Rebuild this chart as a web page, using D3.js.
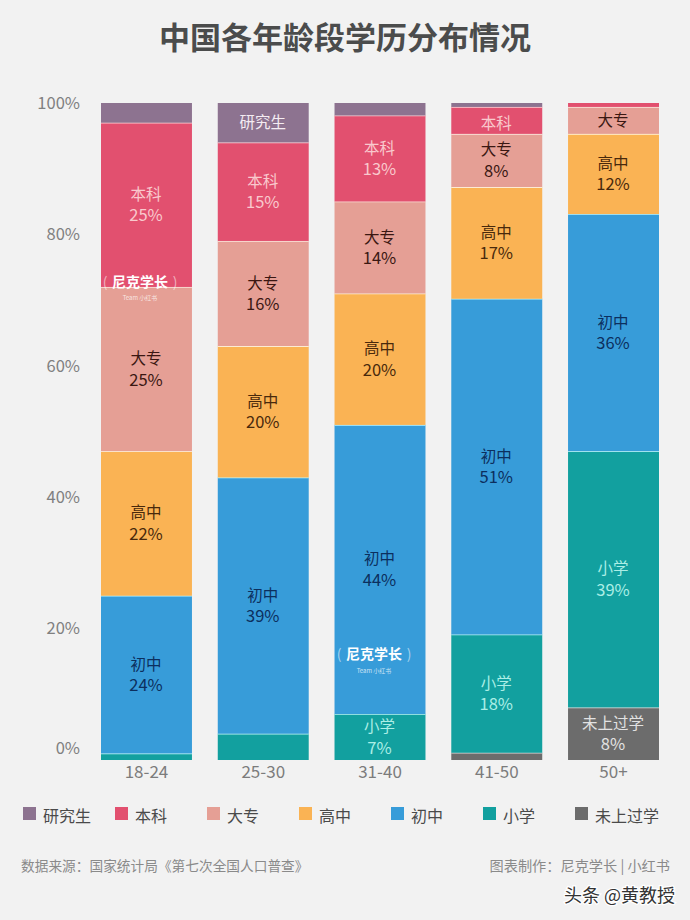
<!DOCTYPE html>
<html>
<head>
<meta charset="utf-8">
<script src="https://d3js.org/d3.v7.min.js"></script>
<style>
  * { margin:0; padding:0; box-sizing:border-box; }
  body { background:#f2f2f2; overflow:hidden; font-family:"Noto Sans CJK SC","Noto Sans",sans-serif; }
  svg { display:block; }
</style>
</head>
<body>
<svg id="chart" width="690" height="920"></svg>
<script>
// Values, oldest schooling level last
const ages      = ["18-24", "25-30", "31-40", "41-50", "50+"];
const levels    = ["研究生", "本科", "大专", "高中", "初中", "小学", "未上过学"];
const graduate  = [3, 6, 1.9, 0.6, 0];
const bachelor  = [25, 15, 13.1, 4.1, 0.6];
const college   = [25, 16, 14, 8.1, 4.1];
const highSch   = [22, 20, 20, 17, 12.2];
const middleSch = [24, 39, 44, 51.1, 36.1];
const primary   = [1, 4, 7, 18, 39];
const noSchool  = [0, 0, 0, 1.1, 8];
const yTicks    = [0, 20, 40, 60, 80, 100];

const seriesValues = [graduate, bachelor, college, highSch, middleSch, primary, noSchool];

// Short segments that only carry the name, no percentage
const nameOnly = ["研究生|25-30", "本科|41-50", "大专|50+"];

const fills  = ["#8d7390", "#e2506f", "#e59f95", "#fab354", "#379cd9", "#12a09f", "#6c6c6c"];
const seams  = ["#f6c9d2", "#fbd0d6", "#fde6de", "#fff3da", "#bdf5fc", "#bdf5f5", "#dddddd"];
const inks   = ["#f4ecf2", "#f9c9cd", "#3a1712", "#48290c", "#0c2f5e", "#abeee6", "#e2e2e2"];

const svg = d3.select("#chart");
const cjk = '"Noto Sans CJK SC","Noto Sans",sans-serif';

svg.append("text")
  .attr("x", 345).attr("y", 49)
  .attr("text-anchor", "middle")
  .attr("font-size", 31).attr("font-weight", 700)
  .attr("fill", "#4b4c4c")
  .text("中国各年龄段学历分布情况");

// ── Scales ───────────────────────────────────────────────────────────────────
const x = d3.scaleBand().domain(ages).range([101, 659]).paddingInner(0.221).paddingOuter(0);
const y = d3.scaleLinear().domain([0, 100]).range([760, 103]);
const colour = d3.scaleOrdinal().domain(levels).range(fills);

const rows = ages.map(function(age, i) {
  const row = { age: age };
  levels.forEach(function(lv, j) { row[lv] = seriesValues[j][i]; });
  return row;
});

// Stack from the bottom of the bar, so lowest schooling goes first
const stacked = d3.stack().keys(levels.slice().reverse())(rows);

const layers = svg.append("g").selectAll("g")
  .data(stacked)
  .join("g")
  .attr("fill", function(d) { return colour(d.key); });

layers.selectAll("rect")
  .data(function(d) { return d; })
  .join("rect")
  .attr("x", function(d) { return x(d.data.age); })
  .attr("y", function(d) { return y(d[1]); })
  .attr("width", x.bandwidth())
  .attr("height", function(d) { return y(d[0]) - y(d[1]); });

// Pale seam along the top of every segment below the first
layers.each(function(layer) {
  const idx = levels.indexOf(layer.key);
  d3.select(this).selectAll("line")
    .data(layer.filter(function(d) { return d[1] > d[0] && d[1] < 99.9; }))
    .join("line")
    .attr("x1", function(d) { return x(d.data.age); })
    .attr("x2", function(d) { return x(d.data.age) + x.bandwidth(); })
    .attr("y1", function(d) { return y(d[1]); })
    .attr("y2", function(d) { return y(d[1]); })
    .attr("stroke", seams[idx])
    .attr("stroke-width", 1.6);
});

// ── Segment labels ───────────────────────────────────────────────────────────
layers.each(function(layer) {
  const idx = levels.indexOf(layer.key);
  const g = d3.select(this);
  layer.forEach(function(d) {
    const v = d[1] - d[0];
    const cx = x(d.data.age) + x.bandwidth() / 2 - 0.5;
    const cy = y((d[0] + d[1]) / 2);
    const key = layer.key + "|" + d.data.age;
    const label = function(yy, str, size) {
      g.append("text")
        .attr("x", cx).attr("y", yy)
        .attr("text-anchor", "middle").attr("dominant-baseline", "central")
        .attr("font-size", size).attr("fill", inks[idx])
        .text(str);
    };
    if (nameOnly.indexOf(key) >= 0) {
      // the 41-50 本科 label sits low in its segment in the original
      label(key === "本科|41-50" ? cy + 2 : cy - 1.5, layer.key, 15.5);
    } else if (v >= 7) {
      label(cy - 12, layer.key, 15.5);
      label(cy + 9.5, Math.round(v) + "%", 16.5);
    }
  });
});

// ── Axes ─────────────────────────────────────────────────────────────────────
const yAxis = svg.append("g")
  .attr("transform", "translate(80,0)")
  .call(d3.axisLeft(y).tickValues(yTicks).tickSize(0).tickPadding(0).tickFormat(function(d) { return d + "%"; }));
yAxis.select(".domain").remove();
yAxis.selectAll("text")
  .attr("font-family", cjk).attr("font-size", 16.5).attr("fill", "#808080")
  .attr("dy", function(d) { return d === 0 ? "-0.42em" : "0.32em"; });

const xAxis = svg.append("g")
  .attr("transform", "translate(0,760)")
  .call(d3.axisBottom(x).tickSize(0).tickPadding(6));
xAxis.select(".domain").remove();
xAxis.selectAll("text")
  .attr("font-family", cjk).attr("font-size", 17).attr("fill", "#7c7c7c");

// ── Legend ───────────────────────────────────────────────────────────────────
const legend = svg.append("g").selectAll("g")
  .data(levels)
  .join("g")
  .attr("transform", function(d, i) { return "translate(" + (23 + i * 92) + ",807)"; });
legend.append("rect")
  .attr("width", 13).attr("height", 13)
  .attr("fill", function(d) { return colour(d); });
legend.append("text")
  .attr("x", 20).attr("y", 8)
  .attr("dominant-baseline", "central")
  .attr("font-size", 16).attr("fill", "#4a4a4a")
  .text(function(d) { return d; });

// ── Footer ───────────────────────────────────────────────────────────────────
svg.append("text")
  .attr("x", 21).attr("y", 871)
  .attr("font-size", 13.7).attr("fill", "#8a8a8a")
  .text("数据来源：国家统计局《第七次全国人口普查》");
svg.append("text")
  .attr("x", 670).attr("y", 871)
  .attr("text-anchor", "end")
  .attr("font-size", 14.2).attr("fill", "#8a8a8a")
  .text("图表制作：尼克学长 | 小红书");
svg.append("text")
  .attr("x", 675).attr("y", 902)
  .attr("text-anchor", "end")
  .attr("font-size", 18).attr("fill", "#333")
  .attr("stroke", "#fff").attr("stroke-width", 2.5).attr("paint-order", "stroke")
  .text("头条 @黄教授");

// Watermarks printed over the bars
[[140, 281, 297], [374, 653, 670]].forEach(function(m) {
  svg.append("text")
    .attr("x", m[0]).attr("y", m[1])
    .attr("text-anchor", "middle").attr("dominant-baseline", "central")
    .attr("font-size", 14).attr("font-weight", 700).attr("fill", "#fff")
    .text("尼克学长");
  [-35, 35].forEach(function(dx, i) {
    svg.append("text")
      .attr("x", m[0] + dx).attr("y", m[1])
      .attr("text-anchor", "middle").attr("dominant-baseline", "central")
      .attr("font-size", 14).attr("fill", "#fff").attr("fill-opacity", 0.55)
      .text(i ? ")" : "(");
  });
  svg.append("text")
    .attr("x", m[0]).attr("y", m[2])
    .attr("text-anchor", "middle").attr("dominant-baseline", "central")
    .attr("font-size", 6).attr("fill", "#fff").attr("fill-opacity", 0.75)
    .text("Team 小红书");
});
</script>
</body>
</html>
